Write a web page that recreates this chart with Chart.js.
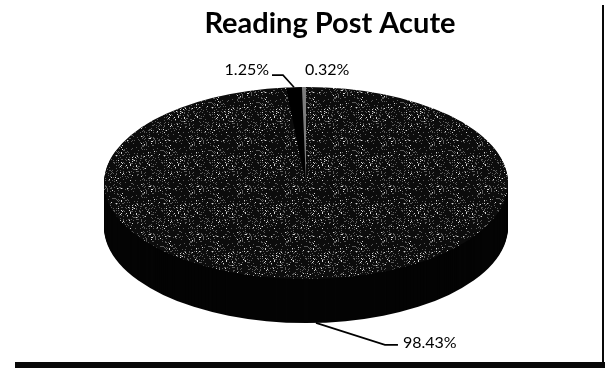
<!DOCTYPE html>
<html>
<head>
<meta charset="utf-8">
<script src="https://cdn.jsdelivr.net/npm/chart.js@4/dist/chart.umd.min.js"></script>
<style>
  html, body { margin: 0; padding: 0; background: #ffffff; }
  #wrap { width: 605px; height: 369px; position: relative; }
</style>
</head>
<body>
<div id="wrap"><canvas id="c" width="605" height="369"></canvas></div>
<script>
// ---- data ----
const categories = ['Segment 1', 'Segment 2', 'Segment 3'];
const shares = [98.43, 1.25, 0.32];
const chartTitle = 'Reading Post Acute';

// ---- tilted pie geometry (top face centre, radius, vertical squash, wall height) ----
const PIE = { cx: 306, cy: 183, r: 202, tilt: 96 / 202, depth: 44 };

// grainy dark fill for the main slice (deterministic speckle tile)
function speckleTile() {
  const size = 48;
  const c = document.createElement('canvas');
  c.width = size; c.height = size;
  const g = c.getContext('2d');
  g.fillStyle = '#0c0c0c';
  g.fillRect(0, 0, size, size);
  for (let y = 0; y < size; y++) {
    for (let x = 0; x < size; x++) {
      let h = Math.imul(x, 374761393) ^ Math.imul(y, 668265263);
      h = Math.imul(h ^ (h >>> 13), 1274126177);
      h = (h ^ (h >>> 16)) >>> 0;
      const v = h % 1000;
      if (v < 25) { g.fillStyle = '#d6d6d6'; g.fillRect(x, y, 1, 1); }
      else if (v < 160) { g.fillStyle = '#5a5a5a'; g.fillRect(x, y, 1, 1); }
    }
  }
  return c;
}

const ctx0 = document.getElementById('c').getContext('2d');
const grain = ctx0.createPattern(speckleTile(), 'repeat');

function arcProps(chart) {
  return chart.getDatasetMeta(0).data.map(a =>
    a.getProps(['x', 'y', 'startAngle', 'endAngle', 'outerRadius'], true));
}

function applyTilt(ctx, a, dy) {
  ctx.translate(PIE.cx, PIE.cy + dy);
  ctx.scale(1, PIE.tilt);
  ctx.translate(-a.x, -a.y);
}

// draws the wall under the pie, then tilts the slices drawn by the controller
const tiltPlugin = {
  id: 'tilt',
  beforeDatasetsDraw(chart) {
    const ctx = chart.ctx;
    const arcs = arcProps(chart);
    const a0 = arcs[0];
    ctx.save();
    ctx.fillStyle = '#040404';
    for (let d = PIE.depth; d >= 1; d--) {
      ctx.save();
      applyTilt(ctx, a0, d);
      ctx.beginPath();
      ctx.arc(a0.x, a0.y, a0.outerRadius, 0, Math.PI * 2);
      ctx.fill();
      ctx.restore();
    }
    ctx.restore();
    grain.setTransform(new DOMMatrix()
      .translate(a0.x, a0.y).scale(1, 1 / PIE.tilt).translate(-PIE.cx, -PIE.cy));
    ctx.save();
    ctx.imageSmoothingEnabled = false;
    applyTilt(ctx, a0, 0);
  },
  afterDatasetsDraw(chart) {
    chart.ctx.restore();
  }
};

// percentage labels with leader lines
const labelLayout = [
  { elbow: [69, 22], run: 13, gap: 5, textDy: -2, align: 'left' },
  { elbow: [-11, -12], run: -11, gap: -3, textDy: -5, align: 'right' },
  { elbow: null, textOff: [1, -17], align: 'left' }
];

const labelPlugin = {
  id: 'pctLabels',
  afterDraw(chart) {
    const ctx = chart.ctx;
    const arcs = arcProps(chart);
    ctx.save();
    ctx.font = '16px Lato';
    ctx.fillStyle = '#000';
    ctx.strokeStyle = '#000';
    ctx.lineWidth = 1.6;
    ctx.textBaseline = 'middle';
    arcs.forEach((a, i) => {
      const mid = (a.startAngle + a.endAngle) / 2;
      const s = Math.sin(mid);
      const ax = PIE.cx + PIE.r * Math.cos(mid);
      const ay = PIE.cy + PIE.r * PIE.tilt * s + (s > 0 ? PIE.depth : 0);
      const L = labelLayout[i];
      const text = shares[i].toFixed(2) + '%';
      ctx.textAlign = L.align;
      if (L.elbow) {
        const ex = ax + L.elbow[0], ey = ay + L.elbow[1];
        const endX = ex + L.run;
        ctx.beginPath();
        ctx.moveTo(ax, ay);
        ctx.lineTo(ex, ey);
        ctx.lineTo(endX, ey);
        ctx.stroke();
        ctx.fillText(text, endX + L.gap, ey + L.textDy);
      } else {
        ctx.fillText(text, ax + L.textOff[0], ay + L.textOff[1]);
      }
    });
    ctx.restore();
  }
};

// frame edges along the right and bottom of the chart box
const framePlugin = {
  id: 'frame',
  afterDraw(chart) {
    const ctx = chart.ctx;
    ctx.save();
    ctx.fillStyle = '#080808';
    ctx.fillRect(602, 5, 2, 358);
    ctx.fillRect(15, 362, 590, 6);
    ctx.restore();
  }
};

new Chart(ctx0, {
  type: 'pie',
  data: {
    labels: categories,
    datasets: [{
      data: shares,
      backgroundColor: [grain, '#000000', '#7c7c7c'],
      borderWidth: 0,
      clip: false
    }]
  },
  options: {
    responsive: false,
    animation: false,
    events: [],
    radius: PIE.r,
    layout: { padding: { left: 55, right: 0, top: 0, bottom: 0 } },
    plugins: {
      legend: { display: false },
      tooltip: { enabled: false },
      title: {
        display: true,
        text: chartTitle,
        color: '#000',
        font: { family: 'Lato', size: 29, weight: 'bold', lineHeight: 1.1 },
        padding: { top: 8, bottom: 10 }
      }
    }
  },
  plugins: [tiltPlugin, labelPlugin, framePlugin]
});
</script>
</body>
</html>
